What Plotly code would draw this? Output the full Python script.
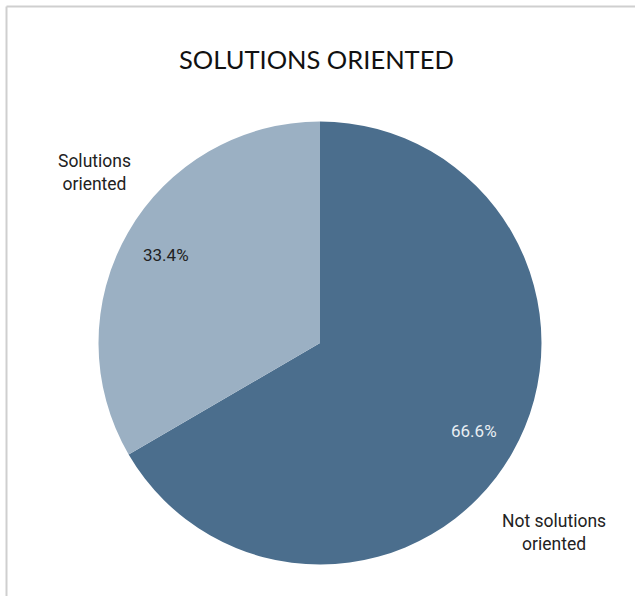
import math
import plotly.graph_objects as go

W, H = 635, 596

# Slice data (clockwise from 12 o'clock)
labels = ["Not solutions oriented", "Solutions oriented"]
label_lines = ["Not solutions<br>oriented", "Solutions<br>oriented"]
values = [66.6, 33.4]
colors = ["#4b6e8d", "#9bb0c3"]
pct_colors = ["#e9eef3", "#222222"]
# outside label positions in pixels (x, y)
label_pos = [(554, 532), (94, 172)]

# pie geometry in pixels
cx, cy, r = 320, 343, 221.5


def px(x):
    return x / W


def py(y):
    return 1 - y / H


fig = go.Figure(
    go.Pie(
        labels=labels,
        values=values,
        sort=False,
        direction="clockwise",
        rotation=0,
        marker=dict(colors=colors, line=dict(width=0)),
        textinfo="none",
        hoverinfo="label+percent",
        showlegend=False,
        domain=dict(x=[px(cx - r), px(cx + r)], y=[py(cy + r), py(cy - r)]),
    )
)

annotations = []
total = sum(values)
start = 0.0
for i, v in enumerate(values):
    mid = (start + v / 2) / total * 2 * math.pi
    start += v
    tx = cx + 0.8 * r * math.sin(mid)
    ty = cy - 0.8 * r * math.cos(mid)
    annotations.append(
        dict(
            x=px(tx), y=py(ty), xref="paper", yref="paper",
            text=f"{v / total * 100:.1f}%", showarrow=False,
            font=dict(family="Roboto", size=17, color=pct_colors[i]),
            xanchor="center", yanchor="middle",
        )
    )
    lx, ly = label_pos[i]
    annotations.append(
        dict(
            x=px(lx), y=py(ly), xref="paper", yref="paper",
            text=label_lines[i], showarrow=False,
            font=dict(family="Roboto", size=17.5, color="#222222"),
            xanchor="center", yanchor="middle", align="center",
        )
    )

annotations.append(
    dict(
        x=px(316), y=py(59), xref="paper", yref="paper",
        text="SOLUTIONS ORIENTED", showarrow=False,
        font=dict(family="Lato", size=25.5, color="#111111"),
        xanchor="center", yanchor="middle",
    )
)

fig.update_layout(
    width=W, height=H,
    margin=dict(l=0, r=0, t=0, b=0),
    paper_bgcolor="white",
    plot_bgcolor="white",
    annotations=annotations,
    shapes=[
        dict(type="line", xref="paper", yref="paper",
             x0=px(6.5), y0=0, x1=px(6.5), y1=py(6.5),
             line=dict(color="#cfcfcf", width=2)),
        dict(type="line", xref="paper", yref="paper",
             x0=px(6.5), y0=py(6.5), x1=1, y1=py(6.5),
             line=dict(color="#cfcfcf", width=2)),
    ],
)

fig.write_html("out.html")
